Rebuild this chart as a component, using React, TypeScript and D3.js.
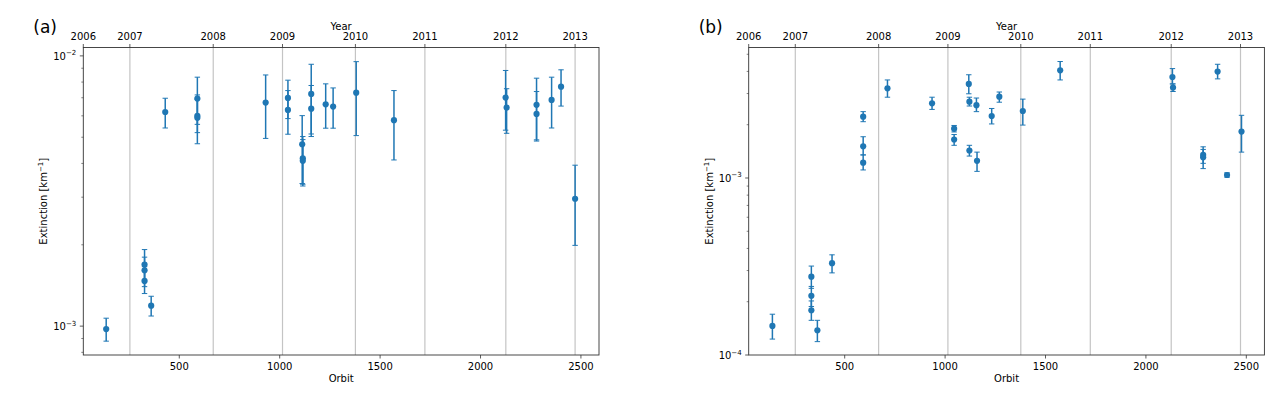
import React from "react"
import * as d3 from "d3"

// ── Data ───────────────────────────────────────────────────────────────────────

const yearLabels = ["2006", "2007", "2008", "2009", "2010", "2011", "2012", "2013"]
const yearOrbits = [22, 254, 669, 1014, 1377, 1723, 2126, 2471]

// panel (a)
const orbitA = [136, 327, 327, 327, 360, 430, 590, 590, 590, 930, 1041, 1041, 1112, 1115, 1115, 1157, 1157, 1229, 1266, 1381, 1569, 2125, 2130, 2279, 2279, 2354, 2401, 2471]
const extA = [9.75e-4, 1.69e-3, 1.61e-3, 1.47e-3, 1.19e-3, 6.2e-3, 6.95e-3, 6.0e-3, 5.9e-3, 6.72e-3, 6.99e-3, 6.31e-3, 4.71e-3, 4.18e-3, 4.09e-3, 7.23e-3, 6.38e-3, 6.62e-3, 6.49e-3, 7.31e-3, 5.78e-3, 7.01e-3, 6.44e-3, 6.59e-3, 6.1e-3, 6.87e-3, 7.69e-3, 2.96e-3]
const loA = [8.8e-4, 1.47e-3, 1.4e-3, 1.32e-3, 1.09e-3, 5.41e-3, 5.58e-3, 4.73e-3, 5.2e-3, 4.95e-3, 5.86e-3, 5.13e-3, 3.37e-3, 3.3e-3, 3.35e-3, 5.14e-3, 5.03e-3, 5.4e-3, 5.4e-3, 5.07e-3, 4.12e-3, 5.31e-3, 5.17e-3, 4.89e-3, 4.84e-3, 5.41e-3, 6.52e-3, 1.99e-3]
const hiA = [1.07e-3, 1.92e-3, 1.8e-3, 1.66e-3, 1.29e-3, 6.97e-3, 8.34e-3, 7.17e-3, 6.9e-3, 8.5e-3, 8.13e-3, 7.44e-3, 6.01e-3, 5.03e-3, 4.9e-3, 9.31e-3, 7.77e-3, 7.88e-3, 7.61e-3, 9.52e-3, 7.44e-3, 8.83e-3, 7.56e-3, 8.27e-3, 7.38e-3, 8.34e-3, 8.88e-3, 3.94e-3]

// panel (b)
const orbitB = [140, 334, 334, 334, 364, 437, 592, 592, 592, 713, 935, 1045, 1045, 1118, 1121, 1156, 1121, 1159, 1232, 1270, 1387, 1573, 2132, 2135, 2285, 2285, 2357, 2404, 2476]
const extB = [1.46e-4, 2.77e-4, 2.16e-4, 1.79e-4, 1.38e-4, 3.3e-4, 2.22e-3, 1.51e-3, 1.22e-3, 3.21e-3, 2.64e-3, 1.9e-3, 1.65e-3, 3.4e-3, 2.7e-3, 2.58e-3, 1.43e-3, 1.25e-3, 2.24e-3, 2.88e-3, 2.39e-3, 4.06e-3, 3.72e-3, 3.24e-3, 1.35e-3, 1.31e-3, 3.99e-3, 1.04e-3, 1.83e-3]
const loB = [1.23e-4, 2.38e-4, 1.88e-4, 1.57e-4, 1.19e-4, 2.91e-4, 2.08e-3, 1.35e-3, 1.11e-3, 2.86e-3, 2.44e-3, 1.82e-3, 1.53e-3, 2.99e-3, 2.55e-3, 2.37e-3, 1.33e-3, 1.09e-3, 2.02e-3, 2.68e-3, 1.99e-3, 3.58e-3, 3.4e-3, 3.08e-3, 1.21e-3, 1.13e-3, 3.63e-3, 1.01e-3, 1.4e-3]
const hiB = [1.7e-4, 3.18e-4, 2.44e-4, 2.02e-4, 1.57e-4, 3.68e-4, 2.37e-3, 1.71e-3, 1.35e-3, 3.58e-3, 2.86e-3, 1.98e-3, 1.76e-3, 3.83e-3, 2.86e-3, 2.83e-3, 1.53e-3, 1.4e-3, 2.47e-3, 3.06e-3, 2.79e-3, 4.55e-3, 4.15e-3, 3.4e-3, 1.5e-3, 1.45e-3, 4.39e-3, 1.07e-3, 2.26e-3]

const orbitTicks = [500, 1000, 1500, 2000, 2500]

// ── Panel ──────────────────────────────────────────────────────────────────────

const BLUE = "#1f77b4"
const FONT = "DejaVu Sans, sans-serif"

type PanelProps = {
  left: number
  label: string
  orbits: number[]
  ext: number[]
  lo: number[]
  hi: number[]
  yDomain: [number, number]
}

function Panel({ left, label, orbits, ext, lo, hi, yDomain }: PanelProps) {
  const top = 47.5
  const bottom = 355
  const w = 515.7
  const x = d3.scaleLinear().domain([22, 2590]).range([left, left + w])
  const y = d3.scaleLog().domain(yDomain).range([bottom, top])

  const [d0, d1] = yDomain
  const e0 = Math.floor(Math.log10(d0))
  const e1 = Math.ceil(Math.log10(d1))
  const majors: number[] = []
  const minors: number[] = []
  for (let e = e0; e <= e1; e++) {
    for (let m = 1; m < 10; m++) {
      const v = m * Math.pow(10, e)
      if (v < d0 * 0.9999 || v > d1 * 1.0001) continue
      if (m === 1) majors.push(v)
      else minors.push(v)
    }
  }

  const cap = 2.7

  return (
    <g fontFamily={FONT}>
      {/* panel label */}
      <text x={left - 50} y={33} fontSize={17} fill="#000">
        {label}
      </text>

      {/* year grid */}
      {yearOrbits.slice(1).map(o => (
        <line key={o} x1={x(o)} x2={x(o)} y1={top} y2={bottom} stroke="#c4c4c4" strokeWidth={1.2} />
      ))}

      {/* error bars */}
      {orbits.map((o, i) => (
        <g key={`e${i}`} stroke={BLUE}>
          <line x1={x(o)} x2={x(o)} y1={y(lo[i])} y2={y(hi[i])} strokeWidth={1.5} />
          <line x1={x(o) - cap} x2={x(o) + cap} y1={y(lo[i])} y2={y(lo[i])} strokeWidth={1} />
          <line x1={x(o) - cap} x2={x(o) + cap} y1={y(hi[i])} y2={y(hi[i])} strokeWidth={1} />
        </g>
      ))}
      {orbits.map((o, i) => (
        <circle key={`p${i}`} cx={x(o)} cy={y(ext[i])} r={3.1} fill={BLUE} />
      ))}

      {/* frame */}
      <rect x={left} y={top} width={w} height={bottom - top} fill="none" stroke="#333" strokeWidth={0.9} />

      {/* bottom axis */}
      {orbitTicks.map(t => (
        <g key={t}>
          <line x1={x(t)} x2={x(t)} y1={bottom} y2={bottom + 3.5} stroke="#333" strokeWidth={0.8} />
          <text x={x(t)} y={369.5} textAnchor="middle" fontSize={10} fill="#000">
            {t}
          </text>
        </g>
      ))}
      <text x={left + w / 2} y={382} textAnchor="middle" fontSize={10} fill="#000">
        Orbit
      </text>

      {/* top axis (years) */}
      {yearOrbits.map((o, i) => (
        <g key={o}>
          <line x1={x(o)} x2={x(o)} y1={top} y2={top - 3.5} stroke="#333" strokeWidth={0.8} />
          <text x={x(o)} y={39.8} textAnchor="middle" fontSize={10} fill="#000">
            {yearLabels[i]}
          </text>
        </g>
      ))}
      <text x={left + w / 2} y={29.5} textAnchor="middle" fontSize={10} fill="#000">
        Year
      </text>

      {/* left axis */}
      {minors.map(v => (
        <line key={v} x1={left} x2={left - 2} y1={y(v)} y2={y(v)} stroke="#333" strokeWidth={0.6} />
      ))}
      {majors.map(v => (
        <g key={v}>
          <line x1={left} x2={left - 3.5} y1={y(v)} y2={y(v)} stroke="#333" strokeWidth={0.8} />
          <text x={left - 7} y={y(v) + 4} textAnchor="end" fontSize={10} fill="#000">
            10
            <tspan fontSize={7} dy={-4.5}>
              {"\u2212" + Math.abs(Math.round(Math.log10(v)))}
            </tspan>
          </text>
        </g>
      ))}
      <text
        transform={`translate(${left - 36},${(top + bottom) / 2}) rotate(-90)`}
        textAnchor="middle"
        fontSize={10}
        fill="#000"
      >
        Extinction [km
        <tspan fontSize={7} dy={-4}>
          {"\u22121"}
        </tspan>
        <tspan dy={4}>]</tspan>
      </text>
    </g>
  )
}

// ── App ────────────────────────────────────────────────────────────────────────

export default function App() {
  return (
    <svg
      width={1280}
      height={399}
      style={{ position: "absolute", left: 0, top: 0, background: "#fff" }}
    >
      <Panel left={83.3} label="(a)" orbits={orbitA} ext={extA} lo={loA} hi={hiA} yDomain={[7.82e-4, 1.074e-2]} />
      <Panel left={748.7} label="(b)" orbits={orbitB} ext={extB} lo={loB} hi={hiB} yDomain={[1e-4, 5.46e-3]} />
    </svg>
  )
}
